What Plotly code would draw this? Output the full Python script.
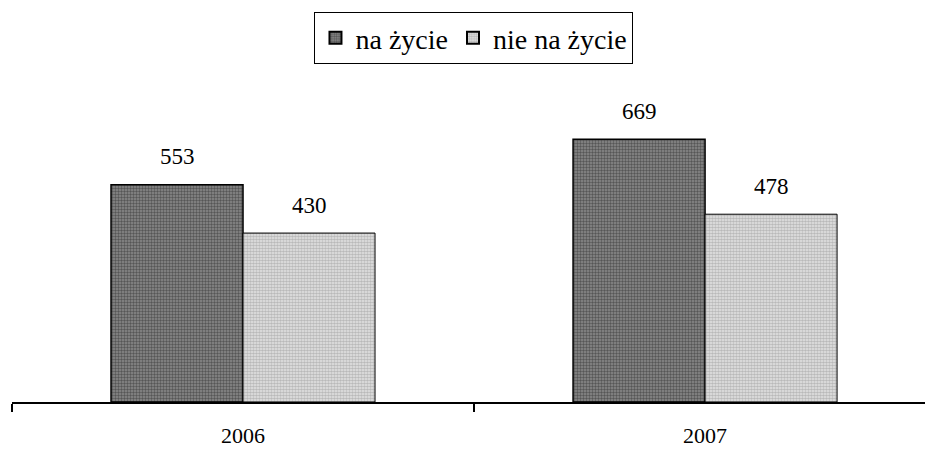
import plotly.graph_objects as go

years = ["2006", "2007"]
na_zycie = [553, 669]
nie_na_zycie = [430, 478]
series_names = ["na życie", "nie na życie"]

xpos = list(range(len(years)))
bargap = 0.4286
bw = (1 - bargap) / 2
SERIF = "Liberation Serif"

fig = go.Figure()
fig.add_trace(go.Bar(
    x=xpos, y=na_zycie, name=series_names[0], width=bw,
    marker=dict(color="#7a7a7a", line=dict(color="black", width=1.5),
                pattern=dict(shape=".", fgcolor="#222222", bgcolor="#8a8a8a", size=3, solidity=0.5)),
))
fig.add_trace(go.Bar(
    x=xpos, y=nie_na_zycie, name=series_names[1], width=bw,
    marker=dict(color="#cccccc", line=dict(color="black", width=1),
                pattern=dict(shape=".", fgcolor="#8c8c8c", bgcolor="#e6e6e6", size=3, solidity=0.6)),
))

annotations = []
for i, v in enumerate(na_zycie):
    annotations.append(dict(x=i - bw / 2, y=v, text=str(v), showarrow=False,
                            yanchor="middle", yshift=28,
                            font=dict(family=SERIF, size=23, color="black")))
for i, v in enumerate(nie_na_zycie):
    annotations.append(dict(x=i + bw / 2, y=v, text=str(v), showarrow=False,
                            yanchor="middle", yshift=28,
                            font=dict(family=SERIF, size=23, color="black")))

fig.update_layout(
    width=925, height=449,
    margin=dict(l=12, r=0, t=127, b=47, autoexpand=False),
    barmode="group", bargap=bargap, bargroupgap=0,
    plot_bgcolor="white", paper_bgcolor="white",
    font=dict(family=SERIF, size=18, color="black"),
    showlegend=True,
    legend=dict(orientation="h", x=0.506, xanchor="center", y=1.418, yanchor="top",
                bordercolor="black", borderwidth=1, font=dict(family=SERIF, size=28),
                itemsizing="constant", itemwidth=30, traceorder="normal",
                tracegroupgap=0),
    annotations=annotations,
    xaxis=dict(
        tickmode="array", tickvals=xpos, ticktext=years, ticks="",
        range=[-0.5, 1.476], showline=True, linecolor="black", linewidth=1.5,
        showgrid=False, zeroline=False, ticklabelstandoff=13, automargin=False,
        tickfont=dict(family=SERIF, size=22),
        minor=dict(tickmode="array", tickvals=[-0.5, 0.5, 1.5], ticks="outside",
                   ticklen=8, tickwidth=1.5, tickcolor="black", showgrid=False),
    ),
    yaxis=dict(range=[0, 700], visible=False, showgrid=False, zeroline=False, automargin=False),
)

fig.write_html("out.html", config={"displayModeBar": False},
               post_script="document.body.style.margin='0';document.body.style.overflow='hidden';")
